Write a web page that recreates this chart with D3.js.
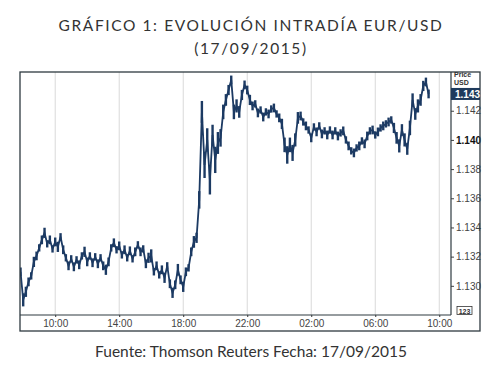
<html>
<head>
  <meta charset="utf-8">
  <script src="https://cdn.jsdelivr.net/npm/d3@7"></script>
  <style>
    body { margin: 0; background: #fff; }
    text { font-family: Arial, "Liberation Sans", sans-serif; }
    .ttl { font-family: Lato, "Open Sans", sans-serif; fill: #333; }
  </style>
</head>
<body>
  <svg id="chart" width="503" height="371"></svg>

<script type="text/javascript">

// EUR/USD quotes every 10 minutes from 07:50 on 17/09/2015
let startTime = new Date(2015, 8, 17, 7, 50)
let stepMinutes = 10
let prices = [
  1.13096, 1.12904, 1.12959, 1.13027, 1.13068, 1.13164, 1.13205, 1.13260, 1.13315, 1.13363,
  1.13288, 1.13315, 1.13253, 1.13301, 1.13267, 1.13336, 1.13247, 1.13192, 1.13137, 1.13185,
  1.13130, 1.13178, 1.13144, 1.13205, 1.13233, 1.13164, 1.13205, 1.13158, 1.13199, 1.13151,
  1.13192, 1.13137, 1.13110, 1.13164, 1.13260, 1.13295, 1.13247, 1.13274, 1.13212, 1.13247,
  1.13192, 1.13240, 1.13185, 1.13233, 1.13281, 1.13233, 1.13253, 1.13151, 1.13192, 1.13205,
  1.13096, 1.13137, 1.13075, 1.13110, 1.13055, 1.13137, 1.13014, 1.12952, 1.13007, 1.13110,
  1.13041, 1.12993, 1.13096, 1.13123, 1.13233, 1.13301, 1.13329, 1.13589, 1.14192, 1.13829,
  1.14000, 1.13726, 1.14034, 1.13863, 1.13979, 1.14014, 1.14192, 1.14274, 1.14342, 1.14411,
  1.14192, 1.14233, 1.14192, 1.14308, 1.14377, 1.14342, 1.14274, 1.14233, 1.14247, 1.14185,
  1.14205, 1.14157, 1.14192, 1.14178, 1.14212, 1.14219, 1.14178, 1.14151, 1.14110, 1.13966,
  1.13897, 1.13966, 1.13911, 1.14000, 1.14151, 1.14164, 1.14123, 1.14096, 1.14068, 1.14014,
  1.14089, 1.14055, 1.14096, 1.14041, 1.14062, 1.14034, 1.14068, 1.14034, 1.14062, 1.14027,
  1.14048, 1.14062, 1.14000, 1.13959, 1.13925, 1.13911, 1.13945, 1.13959, 1.13993, 1.13973,
  1.14027, 1.14062, 1.14068, 1.14034, 1.14055, 1.14082, 1.14096, 1.14110, 1.14123, 1.14137,
  1.14082, 1.14014, 1.13959, 1.14068, 1.14000, 1.13938, 1.14082, 1.14274, 1.14178, 1.14233,
  1.14274, 1.14370, 1.14397, 1.14315
]
// high-low range of each 10-minute slot, in pips
let rangePips = [
  6, 9, 7, 6, 5, 7, 6, 5, 6, 7,
  5, 6, 5, 6, 7, 5, 6, 5, 6, 5,
  6, 5, 6, 5, 7, 6, 5, 6, 5, 6,
  5, 6, 7, 6, 5, 6, 5, 6, 5, 6,
  5, 6, 5, 6, 5, 6, 5, 6, 7, 9,
  5, 6, 5, 6, 7, 5, 6, 7, 6, 8,
  6, 7, 6, 5, 6, 8, 7, 12, 15, 18,
  16, 20, 14, 18, 15, 12, 10, 8, 7, 6,
  10, 9, 8, 7, 6, 6, 7, 6, 5, 6,
  5, 6, 5, 6, 5, 6, 5, 6, 7, 10,
  12, 10, 11, 9, 8, 6, 5, 6, 5, 6,
  5, 6, 5, 6, 5, 6, 5, 6, 5, 6,
  5, 6, 5, 6, 5, 6, 5, 6, 5, 6,
  6, 5, 6, 5, 6, 5, 6, 5, 6, 5,
  7, 8, 9, 8, 9, 8, 10, 9, 8, 9,
  8, 7, 6, 6
]

let yTicks = [1.130, 1.132, 1.134, 1.136, 1.138, 1.140, 1.142]
let xTicks = [
  new Date(2015, 8, 17, 10), new Date(2015, 8, 17, 14), new Date(2015, 8, 17, 18),
  new Date(2015, 8, 17, 22), new Date(2015, 8, 18, 2), new Date(2015, 8, 18, 6),
  new Date(2015, 8, 18, 10)
]
let lastPrice = "1.143"

let data = prices.map(function(p, i){
  return {"t": d3.timeMinute.offset(startTime, i*stepMinutes), "v": p, "r": rangePips[i]/10000}
})

let svg = d3.select('#chart')
let pLeft = 20, pRight = 451, pTop = 72, pBottom = 315, outerRight = 480, outerBottom = 331
let navy = "#1c3a63"

let x = d3.scaleTime()
  .domain([new Date(2015, 8, 17, 7, 48), new Date(2015, 8, 18, 10, 44)])
  .range([pLeft, pRight])
let y = d3.scaleLinear()
  .domain([1.128, 1.1446])
  .range([pBottom, pTop + 0.8])

// titles
svg.append("text").attr("class","ttl")
   .attr("x", 251).attr("y", 31)
   .attr("text-anchor","middle").attr("font-size", 15.5).attr("letter-spacing", 1.6)
   .text("GRÁFICO 1: EVOLUCIÓN INTRADÍA EUR/USD")
svg.append("text").attr("class","ttl")
   .attr("x", 251).attr("y", 54)
   .attr("text-anchor","middle").attr("font-size", 15.5).attr("letter-spacing", 1.6)
   .text("(17/09/2015)")
svg.append("text").attr("class","ttl")
   .attr("x", 251).attr("y", 357)
   .attr("text-anchor","middle").attr("font-size", 15.5)
   .text("Fuente: Thomson Reuters Fecha: 17/09/2015")

// grid
svg.selectAll(".grid")
   .data(xTicks)
   .enter()
   .append("line")
   .attr("class","grid")
   .attr("x1", function(d){return x(d)})
   .attr("x2", function(d){return x(d)})
   .attr("y1", pTop).attr("y2", pBottom)
   .attr("stroke","#d9d9d9").attr("stroke-width",1)

// series
svg.append("defs").append("clipPath").attr("id","clip")
   .append("rect").attr("x",pLeft).attr("y",pTop).attr("width",pRight-pLeft).attr("height",pBottom-pTop)

let plot = svg.append("g").attr("clip-path","url(#clip)")

// high-low bars give the dense tick band
plot.selectAll(".hl")
   .data(data)
   .enter()
   .append("line")
   .attr("class","hl")
   .attr("x1", function(d){return x(d.t)})
   .attr("x2", function(d){return x(d.t)})
   .attr("y1", function(d){return y(d.v + d.r/2)})
   .attr("y2", function(d){return y(d.v - d.r/2)})
   .attr("stroke", navy)
   .attr("stroke-width", 2.4)

let line = d3.line()
  .x(function(d){return x(d.t)})
  .y(function(d){return y(d.v)})

plot.append("path")
   .datum(data)
   .attr("d", line)
   .attr("fill","none")
   .attr("stroke", navy)
   .attr("stroke-width",1.8)

// x axis labels
let xAxis = d3.axisBottom(x).tickValues(xTicks).tickFormat(d3.timeFormat("%H:%M")).tickSize(2).tickPadding(3)
let gx = svg.append("g").attr("transform","translate(0,"+pBottom+")").call(xAxis)
gx.select(".domain").remove()
gx.selectAll("text").attr("font-size",10).attr("fill","#444").attr("font-family","Arial, 'Liberation Sans', sans-serif")
gx.selectAll(".tick line").attr("stroke","#333")

// y axis
let yAxis = d3.axisRight(y).tickValues(yTicks).tickFormat(d3.format(".3f")).tickSize(3).tickPadding(2)
let gy = svg.append("g").attr("transform","translate("+pRight+",0)").call(yAxis)
gy.select(".domain").remove()
gy.selectAll("text").attr("font-size",10).attr("font-family","Arial, 'Liberation Sans', sans-serif")
  .attr("font-weight", function(d){return d==1.140 ? "bold" : "normal"})
  .attr("fill", function(d){return d==1.140 ? "#111" : "#444"})
gy.selectAll(".tick line").attr("stroke","#444")

// frames
svg.append("rect").attr("x",pLeft).attr("y",pTop).attr("width",outerRight-pLeft).attr("height",outerBottom-pTop)
   .attr("fill","none").attr("stroke","#2e3a40").attr("stroke-width",1.3)
svg.append("line").attr("x1",pLeft).attr("x2",pRight).attr("y1",pBottom).attr("y2",pBottom)
   .attr("stroke","#2e3a40").attr("stroke-width",1.2)
svg.append("line").attr("x1",pRight).attr("x2",pRight).attr("y1",pTop).attr("y2",pBottom)
   .attr("stroke","#2e3a40").attr("stroke-width",1.2)

// price header
svg.append("text").attr("x",454).attr("y",77).attr("font-size",7).attr("font-weight","bold").attr("fill","#333").text("Price")
svg.append("text").attr("x",454).attr("y",85).attr("font-size",7).attr("font-weight","bold").attr("fill","#333").text("USD")

// last price box
let ly = y(+prices[prices.length-1])
svg.append("rect").attr("x",pRight).attr("y",ly-6).attr("width",outerRight-pRight).attr("height",12).attr("fill","#1e3a5c")
svg.append("text").attr("x",455).attr("y",ly+4).attr("font-size",10).attr("font-weight","bold").attr("fill","#fff").text(lastPrice)

// "123" badge
svg.append("rect").attr("x",457).attr("y",306.5).attr("width",15).attr("height",8).attr("fill","#fff").attr("stroke","#333").attr("stroke-width",0.8)
svg.append("text").attr("x",464.5).attr("y",313.5).attr("text-anchor","middle").attr("font-size",7).attr("font-weight","bold").attr("fill","#333").text("123")

</script>
</body>
</html>
